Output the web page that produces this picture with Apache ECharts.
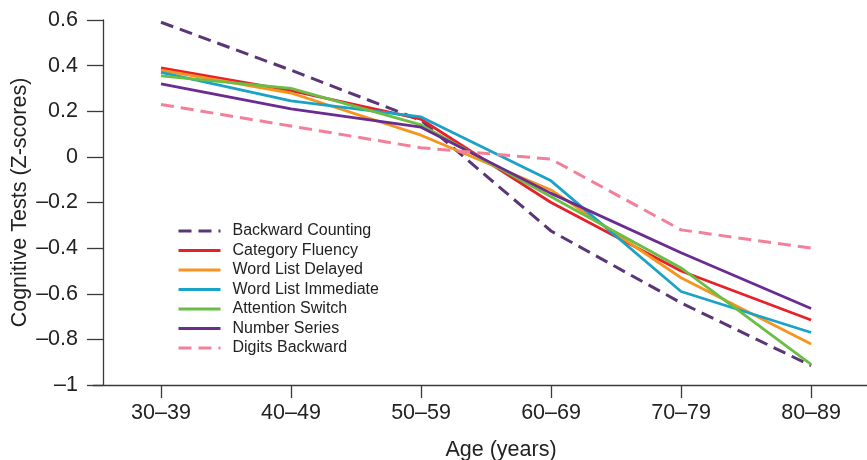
<!DOCTYPE html>
<html>
<head>
<meta charset="utf-8">
<script src="https://cdn.jsdelivr.net/npm/echarts@6/dist/echarts.min.js"></script>
<style>
html,body{margin:0;padding:0;background:#fff;}
#chart{width:867px;height:460px;}
</style>
</head>
<body>
<div id="chart"></div>
<script>
const categories = ['30–39', '40–49', '50–59', '60–69', '70–79', '80–89'];
const yTicks = [-1, -0.8, -0.6, -0.4, -0.2, 0, 0.2, 0.4, 0.6];

const backwardCounting  = [0.59, 0.38, 0.16, -0.325, -0.64, -0.915];
const categoryFluency   = [0.39, 0.29, 0.165, -0.20, -0.50, -0.715];
const wordListDelayed   = [0.38, 0.28, 0.095, -0.145, -0.53, -0.82];
const wordListImmediate = [0.37, 0.245, 0.175, -0.105, -0.59, -0.77];
const attentionSwitch   = [0.355, 0.30, 0.14, -0.175, -0.487, -0.91];
const numberSeries      = [0.32, 0.21, 0.13, -0.16, -0.42, -0.665];
const digitsBackward    = [0.23, 0.135, 0.04, -0.01, -0.32, -0.40];

const seriesDefs = [
  {name: 'Backward Counting', data: backwardCounting, color: '#5b3676', dash: [13, 7]},
  {name: 'Category Fluency', data: categoryFluency, color: '#e8202a', dash: null},
  {name: 'Word List Delayed', data: wordListDelayed, color: '#f7941d', dash: null},
  {name: 'Word List Immediate', data: wordListImmediate, color: '#1ba3c6', dash: null},
  {name: 'Attention Switch', data: attentionSwitch, color: '#6abd45', dash: null},
  {name: 'Number Series', data: numberSeries, color: '#6a2c91', dash: null},
  {name: 'Digits Backward', data: digitsBackward, color: '#f2809a', dash: [13, 7]}
];

const FONT = '"Liberation Sans", Arial, Helvetica, sans-serif';
const AXIS_COLOR = '#3a3a3a';

const chart = echarts.init(document.getElementById('chart'), null, {renderer: 'canvas'});

const fmtY = v => {
  const r = Math.round(v * 10) / 10;
  if (r < 0) return '–' + String(Math.abs(r));
  return String(r);
};

const option = {
  backgroundColor: '#ffffff',
  animation: false,
  textStyle: {fontFamily: FONT},
  grid: {left: 93, right: 0, top: 20, bottom: 75, containLabel: false, outerBoundsMode: 'none'},
  legend: {
    orient: 'vertical',
    left: 172,
    top: 218,
    itemWidth: 42,
    itemHeight: 14,
    itemGap: 3.5,
    itemStyle: {opacity: 0},
    lineStyle: {width: 3},
    textStyle: {fontFamily: FONT, fontSize: 16, color: '#222', padding: [0, 0, 0, 7]},
    data: seriesDefs.map(s => s.name)
  },
  xAxis: {
    type: 'value',
    min: -0.523,
    max: 5.43,
    splitLine: {show: false},
    axisLine: {show: true, onZero: false, lineStyle: {color: AXIS_COLOR, width: 1.3}},
    axisTick: {show: true, length: 13, customValues: categories.map((c, i) => i), lineStyle: {color: AXIS_COLOR, width: 1.3}},
    axisLabel: {
      customValues: categories.map((c, i) => i),
      formatter: v => categories[Math.round(v)] || '',
      fontFamily: FONT, fontSize: 21.5, color: '#222', margin: 17
    },
    name: 'Age (years)',
    nameLocation: 'middle',
    nameGap: 54,
    nameMoveOverlap: false,
    nameTextStyle: {fontFamily: FONT, fontSize: 21.5, color: '#222', padding: [0, 0, 0, 42]}
  },
  yAxis: {
    type: 'value',
    min: -1,
    max: 0.6,
    interval: 0.2,
    offset: -10,
    splitLine: {show: false},
    axisLine: {show: true, onZero: false, lineStyle: {color: AXIS_COLOR, width: 1.3}},
    axisTick: {show: true, length: 16, lineStyle: {color: AXIS_COLOR, width: 1.3}},
    axisLabel: {formatter: fmtY, fontFamily: FONT, fontSize: 21.5, color: '#222', margin: 25},
    name: 'Cognitive Tests (Z-scores)',
    nameLocation: 'middle',
    nameGap: 72,
    nameMoveOverlap: false,
    nameTextStyle: {fontFamily: FONT, fontSize: 21.5, color: '#222'}
  },
  series: seriesDefs.map(s => ({
    name: s.name,
    type: 'line',
    data: s.data.map((v, i) => [i, v]),
    symbol: 'none',
    color: s.color,
    lineStyle: {color: s.color, width: s.dash ? 3 : 2.8, type: s.dash || 'solid'},
    itemStyle: {color: s.color}
  }))
};

chart.setOption(option);
</script>
</body>
</html>
